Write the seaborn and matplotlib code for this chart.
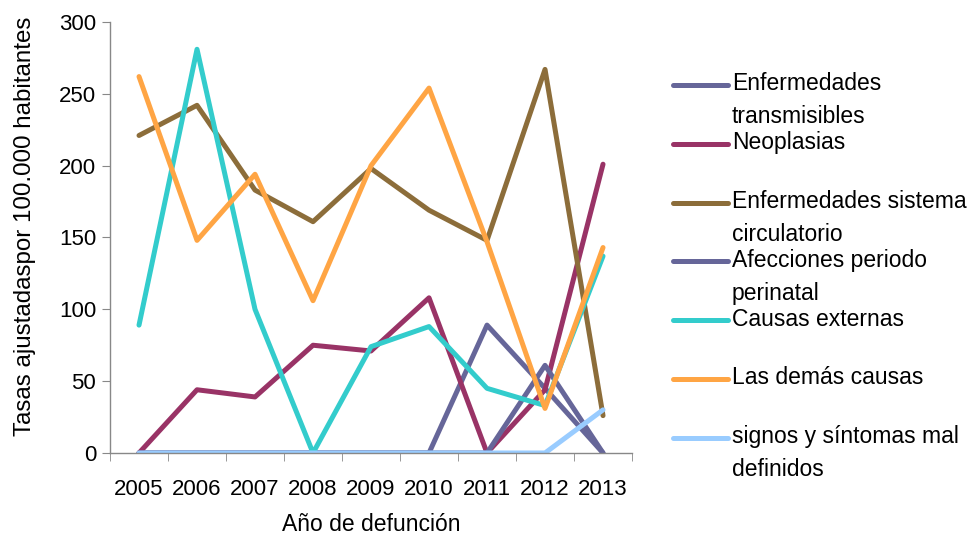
import numpy as np
import pandas as pd
import seaborn as sns
import matplotlib.pyplot as plt
from matplotlib.lines import Line2D
from matplotlib.ticker import MultipleLocator

years = [2005, 2006, 2007, 2008, 2009, 2010, 2011, 2012, 2013]
transmisibles = [0, 0, 0, 0, 0, 0, 89, 45, 0]
neoplasias = [0, 44, 39, 75, 71, 108, 0, 44, 201]
circulatorio = [221, 242, 183, 161, 198, 169, 148, 267, 26]
perinatal = [0, 0, 0, 0, 0, 0, 0, 61, 0]
externas = [89, 281, 100, 0, 74, 88, 45, 33, 137]
demas = [262, 148, 194, 106, 200, 254, 147, 31, 143]
signos = [0, 0, 0, 0, 0, 0, 0, 0, 30]

series_names = ['Enfermedades\ntransmisibles', 'Neoplasias',
                'Enfermedades sistema\ncirculatorio', 'Afecciones periodo\nperinatal',
                'Causas externas', 'Las demás causas', 'signos y síntomas mal\ndefinidos']
series_vals = [transmisibles, neoplasias, circulatorio, perinatal, externas, demas, signos]
colors = ['#666699', '#993366', '#8C6D3A', '#666699', '#33CCCC', '#FFA544', '#99CCFF']

df = pd.DataFrame({
    'year': years * len(series_names),
    'serie': [n for n in series_names for _ in years],
    'valor': [v for vals in series_vals for v in vals],
})

sns.set_style('white')
plt.rcParams['font.family'] = ['Liberation Sans', 'DejaVu Sans']
plt.rcParams['text.color'] = 'black'
plt.rcParams['axes.labelcolor'] = 'black'

fig = plt.figure(figsize=(9.71, 5.39), dpi=100)
ax = fig.add_axes([0.1133, 0.1596, 0.5376, 0.7996])

sns.lineplot(data=df, x='year', y='valor', hue='serie', hue_order=series_names,
             palette=dict(zip(series_names, colors)), linewidth=3.6,
             legend=False, ax=ax, solid_capstyle='round')

ax.set_xlim(2004.5, 2013.5)
ax.set_ylim(0, 300)
ax.set_xticks(years)
ax.set_xticklabels([str(y) for y in years])
ax.xaxis.set_minor_locator(MultipleLocator(1, offset=0.5))
ax.yaxis.set_major_locator(MultipleLocator(50))
ax.tick_params(axis='x', which='major', length=0, labelsize=16, labelcolor='black', pad=18.5)
ax.tick_params(axis='x', which='minor', length=6, color='#888888', direction='out', bottom=True)
ax.tick_params(axis='y', length=6, color='#888888', labelcolor='black', direction='out',
               left=True, labelsize=16, pad=4)
for s in ['top', 'right']:
    ax.spines[s].set_visible(False)
for s in ['left', 'bottom']:
    ax.spines[s].set_color('#888888')
    ax.spines[s].set_linewidth(1.0)
ax.set_xlabel('Año de defunción', fontsize=16.5, labelpad=9.5)
ax.set_ylabel('Tasas ajustadaspor 100.000 habitantes', fontsize=17.4)
ax.yaxis.set_label_coords(-0.142, 0.527)

# legend (first text line aligned with the handle, as in the original)
W, H = 971, 539
for i, (name, col) in enumerate(zip(series_names, colors)):
    yc = 85 + i * 58.8
    fig.add_artist(Line2D([673 / W, 728 / W], [1 - yc / H, 1 - yc / H],
                          color=col, linewidth=3.6, solid_capstyle='round'))
    fig.text(732 / W, 1 - (yc - 12.5) / H, name, fontsize=16.5, va='top', ha='left',
             linespacing=1.55)

fig.savefig('out.png', dpi=100)
